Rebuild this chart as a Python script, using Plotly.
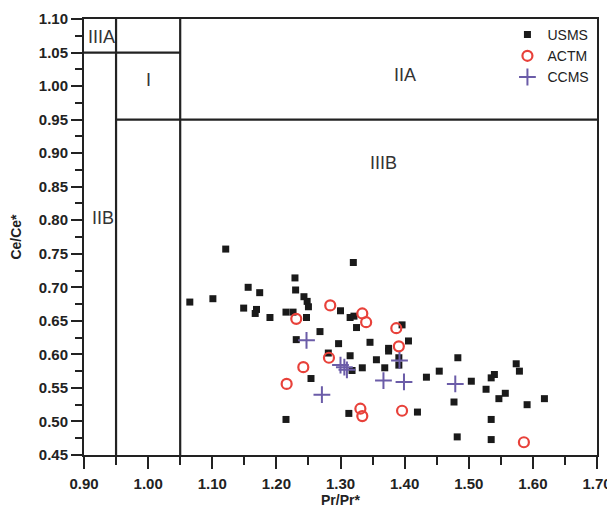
import plotly.graph_objects as go

# USMS (black squares)
usms_x = [1.121, 1.229, 1.230, 1.156, 1.174, 1.101, 1.065, 1.243, 1.248, 1.250,
          1.149, 1.169, 1.167, 1.190, 1.215, 1.226, 1.247, 1.268, 1.231, 1.281,
          1.254, 1.215, 1.300, 1.315, 1.321, 1.325, 1.396, 1.406, 1.297, 1.346,
          1.375, 1.375, 1.315, 1.356, 1.391, 1.483, 1.318, 1.334, 1.369, 1.391,
          1.454, 1.434, 1.477, 1.313, 1.420, 1.482, 1.574, 1.579, 1.540, 1.535,
          1.504, 1.527, 1.557, 1.547, 1.618, 1.591, 1.535, 1.535, 1.320]
usms_y = [0.757, 0.714, 0.696, 0.700, 0.692, 0.683, 0.678, 0.686, 0.679, 0.671,
          0.669, 0.667, 0.661, 0.655, 0.663, 0.663, 0.655, 0.634, 0.622, 0.602,
          0.564, 0.503, 0.665, 0.655, 0.657, 0.640, 0.644, 0.620, 0.616, 0.618,
          0.609, 0.605, 0.598, 0.592, 0.595, 0.595, 0.576, 0.580, 0.580, 0.584,
          0.575, 0.566, 0.529, 0.512, 0.514, 0.477, 0.586, 0.575, 0.570, 0.565,
          0.560, 0.548, 0.542, 0.534, 0.534, 0.525, 0.503, 0.473, 0.737]

# ACTM (red open circles)
actm_x = [1.231, 1.284, 1.334, 1.340, 1.387, 1.391, 1.282, 1.242, 1.216, 1.331,
          1.334, 1.396, 1.586]
actm_y = [0.653, 0.673, 0.661, 0.648, 0.639, 0.612, 0.595, 0.581, 0.556, 0.519,
          0.508, 0.516, 0.469]

# CCMS (purple crosses)
ccms_x = [1.247, 1.271, 1.300, 1.306, 1.310, 1.392, 1.367, 1.399, 1.479]
ccms_y = [0.621, 0.540, 0.584, 0.581, 0.577, 0.591, 0.561, 0.559, 0.556]

# Region labels
region_labels = ["IIIA", "I", "IIA", "IIIB", "IIB"]
region_x = [0.927, 1.000, 1.400, 1.367, 0.930]
region_y = [1.073, 1.009, 1.016, 0.885, 0.803]

ink = "#222222"
fig = go.Figure()
fig.add_trace(go.Scatter(x=usms_x, y=usms_y, mode="markers", name="USMS",
                         marker=dict(symbol="square", size=7, color="#1a1a1a")))
fig.add_trace(go.Scatter(x=actm_x, y=actm_y, mode="markers", name="ACTM",
                         marker=dict(symbol="circle-open", size=10, color="#e8413a",
                                     line=dict(width=2.2, color="#e8413a"))))
fig.add_trace(go.Scatter(x=ccms_x, y=ccms_y, mode="markers", name="CCMS",
                         marker=dict(symbol="cross-thin-open", size=12, color="#6b5ca8",
                                     line=dict(width=2, color="#6b5ca8"))))

for txt, xx, yy in zip(region_labels, region_x, region_y):
    fig.add_annotation(x=xx, y=yy, text=txt, showarrow=False,
                       font=dict(family="Liberation Sans, Arial", size=18, color="#333333"))

line = dict(color=ink, width=2.2)
fig.add_shape(type="line", x0=0.95, x1=0.95, y0=0.45, y1=1.10, line=line)
fig.add_shape(type="line", x0=1.05, x1=1.05, y0=0.45, y1=1.10, line=line)
fig.add_shape(type="line", x0=0.90, x1=1.05, y0=1.05, y1=1.05, line=line)
fig.add_shape(type="line", x0=0.95, x1=1.70, y0=0.95, y1=0.95, line=line)

tickfont = dict(family="Liberation Sans, Arial", size=15, color=ink)
fig.update_layout(
    width=607, height=500,
    margin=dict(l=76, r=18, t=11, b=53),
    paper_bgcolor="white", plot_bgcolor="white",
    font=dict(family="Liberation Sans, Arial", color=ink),
    showlegend=True,
    legend=dict(x=0.995, y=1.0, xanchor="right", yanchor="top",
                bgcolor="rgba(0,0,0,0)", font=dict(size=14, color=ink),
                itemwidth=30, tracegroupgap=0),
    xaxis=dict(range=[0.90, 1.70], tick0=0.9, dtick=0.1, tickformat=".2f",
               automargin=False, ticklabelstandoff=2,
               showgrid=False, zeroline=False, showline=True, linecolor=ink,
               linewidth=2, mirror=True, ticks="outside", ticklen=12, tickwidth=2,
               tickcolor=ink, tickfont=tickfont,
               minor=dict(dtick=0.05, tick0=0.9, ticks="outside", ticklen=8,
                          tickwidth=2, tickcolor=ink, showgrid=False),
               title=dict(text="<b>Pr/Pr*</b>", font=dict(size=14, color=ink), standoff=7)),
    yaxis=dict(range=[0.45, 1.10], tick0=0.45, dtick=0.05, tickformat=".2f",
               automargin=False,
               showgrid=False, zeroline=False, showline=True, linecolor=ink,
               linewidth=2, mirror=True, ticks="outside", ticklen=11, tickwidth=2,
               tickcolor=ink, tickfont=tickfont,
               minor=dict(dtick=0.025, tick0=0.45, ticks="outside", ticklen=7,
                          tickwidth=2, tickcolor=ink, showgrid=False),
               title=dict(text="<b>Ce/Ce*</b>", font=dict(size=14, color=ink), standoff=14)),
)
fig.update_xaxes(tickprefix="<b>", ticksuffix="</b>")
fig.update_yaxes(tickprefix="<b>", ticksuffix="</b>")

fig.write_html("out.html")
